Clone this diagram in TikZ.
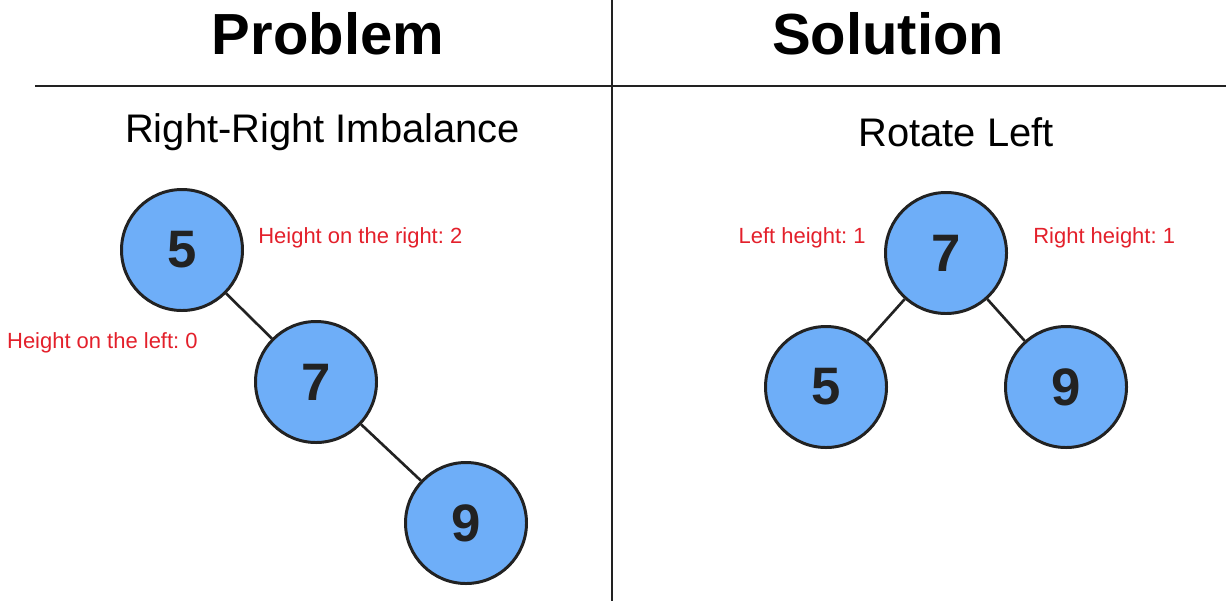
\documentclass[tikz,border=0pt]{standalone}
\usepackage{fontspec}
\setmainfont{Liberation Sans}
\frenchspacing
\definecolor{avlblue}{HTML}{6EAEF8}
\definecolor{avlred}{HTML}{E3202B}
\definecolor{avlink}{HTML}{222222}
\usepackage{tikz}
\usetikzlibrary{positioning}

\begin{document}
\begin{tikzpicture}[
    avl/.style={circle, draw=avlink, line width=1.7pt, fill=avlblue,
                minimum size=2.42cm, inner sep=0pt, font=\fontsize{30}{30}\selectfont\bfseries, text=avlink},
    hnote/.style={font=\fontsize{12.5}{14}\selectfont, text=avlred, inner sep=0pt},
    heading/.style={font=\fontsize{33}{36}\selectfont\bfseries, inner sep=0pt},
    subhead/.style={font=\fontsize{22.7}{24}\selectfont, inner sep=0pt},
    link/.style={avlink, line width=1.5pt}
  ]
    \useasboundingbox (0,0) rectangle (24.52,-12.06);

    % header and divider
    \node[heading] (prob) at (6.56,-0.68) {Problem};
    \node[heading] (sol) at (17.76,-0.68) {Solution};
    \coordinate (vtop) at (12.24,0);
    \coordinate (vbot) at (12.24,-12.02);
    \coordinate (hl) at (0.70,-1.72);
    \coordinate (hr) at (24.52,-1.72);
    \draw[avlink, line width=1.5pt] (vtop) -- (vbot);
    \draw[avlink, line width=1.6pt] (hl) -- (hr);

    % problem: right-right imbalance
    \node[subhead] (imb) at (6.45,-2.64) {Right-Right Imbalance};
    \node[avl] (p5) at (3.64,-5.00) {5};
    \node[avl] (p7) at (6.32,-7.64) {7};
    \node[avl] (p9) at (9.32,-10.46) {9};
    \draw[link] (p5) -- (p7);
    \draw[link] (p7) -- (p9);
    \node[hnote, anchor=west] (hright) at (5.16,-4.76) {Height on the right: 2};
    \node[hnote, anchor=east] (hleft) at (3.96,-6.86) {Height on the left: 0};

    % solution: rotate left
    \node[subhead] (rot) at (19.12,-2.64) {Rotate Left};
    \node[avl] (s7) at (18.92,-5.06) {7};
    \node[avl] (s5) at (16.52,-7.74) {5};
    \node[avl] (s9) at (21.32,-7.74) {9};
    \draw[link] (s7) -- (s5);
    \draw[link] (s7) -- (s9);
    \node[hnote, anchor=east] (lh) at (17.32,-4.76) {Left height: 1};
    \node[hnote, anchor=west] (rh) at (20.66,-4.76) {Right height: 1};
\end{tikzpicture}
\end{document}
